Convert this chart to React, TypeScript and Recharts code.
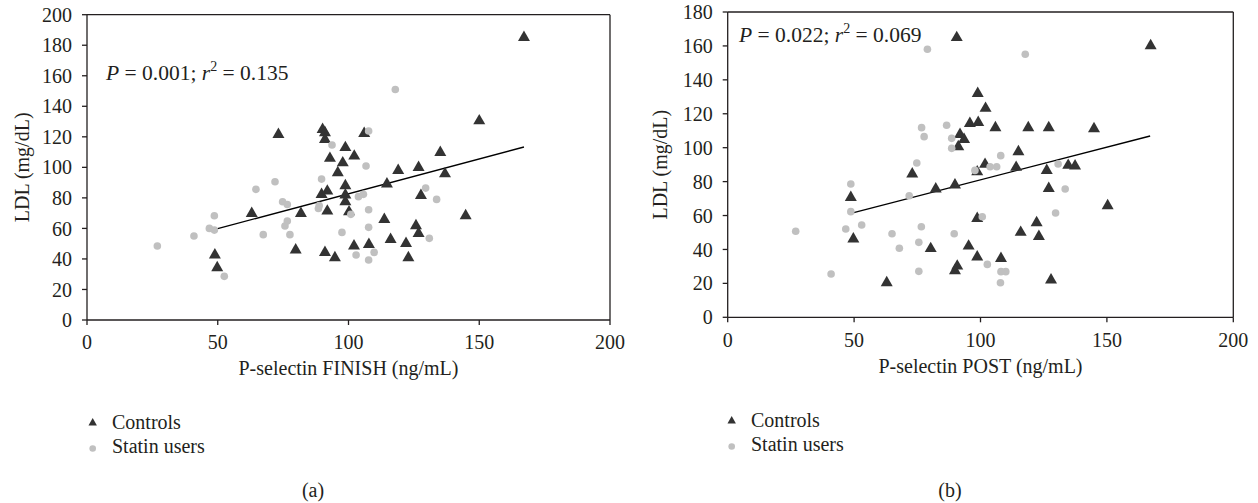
import { ScatterChart, Scatter, XAxis, YAxis, ReferenceLine, Legend } from 'recharts';

// (a) P-selectin FINISH vs LDL
const finishControls = [
  { x: 48.9, y: 43.7 }, { x: 49.8, y: 35.4 }, { x: 63, y: 70.9 }, { x: 73.2, y: 122.7 },
  { x: 79.8, y: 47 }, { x: 81.8, y: 70.9 }, { x: 89.7, y: 83.4 }, { x: 90.1, y: 125.9 },
  { x: 91, y: 123.8 }, { x: 91, y: 119.4 }, { x: 91, y: 45.4 }, { x: 91.9, y: 85.6 },
  { x: 91.9, y: 72.5 }, { x: 92.9, y: 107 }, { x: 94.8, y: 41.9 }, { x: 95.9, y: 97.6 },
  { x: 97.8, y: 104.1 }, { x: 98.8, y: 114.1 }, { x: 98.8, y: 89.1 }, { x: 98.8, y: 83 },
  { x: 98.8, y: 78.6 }, { x: 100.2, y: 72 }, { x: 102.1, y: 49.6 }, { x: 102.2, y: 108.5 },
  { x: 106, y: 123.3 }, { x: 107.8, y: 50.6 }, { x: 113.7, y: 67 }, { x: 114.7, y: 90.2 },
  { x: 116.1, y: 53.9 }, { x: 119, y: 99.1 }, { x: 122, y: 51.3 }, { x: 122.9, y: 41.9 },
  { x: 125.8, y: 62.9 }, { x: 126.8, y: 57.8 }, { x: 126.8, y: 101 }, { x: 127.7, y: 82.7 },
  { x: 135.1, y: 110.9 }, { x: 136.9, y: 96.9 }, { x: 144.8, y: 69.4 }, { x: 150, y: 131.6 },
  { x: 167.1, y: 186.2 },
];
const finishStatin = [
  { x: 26.9, y: 48.5 }, { x: 40.9, y: 55 }, { x: 46.8, y: 60 }, { x: 48.7, y: 58.9 },
  { x: 48.7, y: 68.3 }, { x: 52.5, y: 28.6 }, { x: 64.6, y: 85.6 }, { x: 67.4, y: 55.9 },
  { x: 71.9, y: 90.6 }, { x: 74.8, y: 77.5 }, { x: 75.7, y: 61.6 }, { x: 76.6, y: 75.7 },
  { x: 76.6, y: 64.8 }, { x: 77.6, y: 55.9 }, { x: 88.5, y: 73 }, { x: 88.8, y: 75 },
  { x: 89.7, y: 92.3 }, { x: 93.7, y: 114.6 }, { x: 97.5, y: 57.4 }, { x: 100.9, y: 69.2 },
  { x: 102.9, y: 42.6 }, { x: 103.8, y: 80.8 }, { x: 105.7, y: 82.3 }, { x: 106.7, y: 100.9 },
  { x: 107.7, y: 123.8 }, { x: 107.7, y: 72.2 }, { x: 107.7, y: 60.7 }, { x: 107.7, y: 39.3 },
  { x: 109.8, y: 44.3 }, { x: 117.9, y: 151 }, { x: 129.5, y: 86.4 }, { x: 130.9, y: 53.5 },
  { x: 133.7, y: 79 },
];
const finishFit = [{ x: 48.9, y: 59.4 }, { x: 167.1, y: 113.3 }];
const finishYTicks = [0, 20, 40, 60, 80, 100, 120, 140, 160, 180, 200];

// (b) P-selectin POST vs LDL
const postControls = [
  { x: 48.7, y: 71.7 }, { x: 49.7, y: 47.2 }, { x: 62.9, y: 21.4 }, { x: 73, y: 85.5 },
  { x: 80.3, y: 41.5 }, { x: 82.3, y: 76.7 }, { x: 89.9, y: 79 }, { x: 89.9, y: 28.5 },
  { x: 90.6, y: 165.9 }, { x: 90.8, y: 31.2 }, { x: 91.2, y: 101.6 }, { x: 91.9, y: 108.8 },
  { x: 93.5, y: 105.9 }, { x: 95.3, y: 43 }, { x: 95.8, y: 115.3 }, { x: 98.7, y: 86.8 },
  { x: 98.7, y: 59.3 }, { x: 98.7, y: 36.6 }, { x: 98.9, y: 133 }, { x: 99.1, y: 115.9 },
  { x: 101.8, y: 91.2 }, { x: 102, y: 124.2 }, { x: 105.9, y: 112.8 }, { x: 108.1, y: 35.7 },
  { x: 114.1, y: 89.4 }, { x: 115, y: 98.6 }, { x: 115.9, y: 51.1 }, { x: 118.9, y: 112.8 },
  { x: 122.2, y: 56.8 }, { x: 123.1, y: 48.7 }, { x: 126.2, y: 87.6 }, { x: 127, y: 112.8 },
  { x: 127, y: 77 }, { x: 127.9, y: 23 }, { x: 134.7, y: 90.6 }, { x: 137.4, y: 90.2 },
  { x: 144.9, y: 112.2 }, { x: 150.3, y: 66.8 }, { x: 167.3, y: 161.1 },
];
const postStatin = [
  { x: 26.9, y: 50.7 }, { x: 40.9, y: 25.5 }, { x: 46.7, y: 52.1 }, { x: 48.7, y: 78.6 },
  { x: 48.7, y: 62.3 }, { x: 53, y: 54.4 }, { x: 65, y: 49.3 }, { x: 67.9, y: 40.7 },
  { x: 71.8, y: 71.7 }, { x: 74.8, y: 91 }, { x: 75.6, y: 44.2 }, { x: 75.6, y: 27.1 },
  { x: 76.6, y: 53.4 }, { x: 76.7, y: 111.8 }, { x: 77.7, y: 106.5 }, { x: 79, y: 158 },
  { x: 86.6, y: 113.2 }, { x: 88.6, y: 105.5 }, { x: 88.6, y: 99.6 }, { x: 89.6, y: 49.3 },
  { x: 97.8, y: 86.6 }, { x: 100.7, y: 59.3 }, { x: 102.7, y: 31.2 }, { x: 103.8, y: 88.8 },
  { x: 106.4, y: 88.8 }, { x: 107.9, y: 20.4 }, { x: 108, y: 95.3 }, { x: 108.1, y: 26.9 },
  { x: 110, y: 26.9 }, { x: 117.7, y: 155.1 }, { x: 129.7, y: 61.5 }, { x: 130.7, y: 90.4 },
  { x: 133.5, y: 75.6 },
];
const postFit = [{ x: 48.7, y: 61.3 }, { x: 167.1, y: 106.9 }];
const postYTicks = [0, 20, 40, 60, 80, 100, 120, 140, 160, 180];

const xTicks = [0, 50, 100, 150, 200];
const seriesNames = ['Controls', 'Statin users'];

const FONT = '"Liberation Serif", "Times New Roman", serif';
const INK = '#231f20';
const CONTROL = '#333333';
const STATIN = '#c0c0c0';
const FS = 20;

const Tri = (p: any) => {
  const { cx, cy } = p;
  if (cx == null || cy == null) return null;
  const w = 12, h = 10.4;
  return (
    <polygon
      points={`${cx},${cy - h / 2} ${cx - w / 2},${cy + h / 2} ${cx + w / 2},${cy + h / 2}`}
      fill={CONTROL}
    />
  );
};

const Dot = (p: any) => {
  const { cx, cy } = p;
  if (cx == null || cy == null) return null;
  return <circle cx={cx} cy={cy} r={3.8} fill={STATIN} />;
};

const LegendBox = () => (
  <svg width={220} height={60} style={{ display: 'block' }}>
    <polygon points="12.7,13 8.5,20.5 16.9,20.5" fill={CONTROL} />
    <text x={32} y={24} fontFamily={FONT} fontSize={FS} fill={INK}>{seriesNames[0]}</text>
    <circle cx={12.7} cy={43.5} r={3.3} fill={STATIN} />
    <text x={32} y={48} fontFamily={FONT} fontSize={FS} fill={INK}>{seriesNames[1]}</text>
  </svg>
);

type PanelProps = {
  controls: { x: number; y: number }[];
  statin: { x: number; y: number }[];
  fit: { x: number; y: number }[];
  yTicks: number[];
  xLabel: string;
  p: string;
  r2: string;
  tag: string;
  top: number;
  right: number;
  yAxisWidth: number;
  yLabelOffset: number;
  noteX: number;
  noteY: number;
  legendLeft: number;
  legendTop: number;
  tagX: number;
};

const Panel = (props: PanelProps) => {
  const { controls, statin, fit, yTicks, xLabel, p, r2, tag, top, right, yAxisWidth } = props;
  const yMax = yTicks[yTicks.length - 1];
  const xAxisHeight = 60;
  const plotBottom = top + 305.3;
  const bottom = 503 - plotBottom - xAxisHeight;
  return (
    <ScatterChart
      width={629}
      height={503}
      margin={{ top, right, bottom, left: 0 }}
      style={{ fontFamily: FONT }}
    >
      <XAxis
        type="number"
        dataKey="x"
        domain={[0, 200]}
        ticks={xTicks}
        interval={0}
        height={xAxisHeight}
        stroke={INK}
        strokeWidth={1.3}
        tickSize={5}
        tickMargin={10}
        tick={{ fill: INK, fontSize: FS, fontFamily: FONT }}
        label={{ value: xLabel, position: 'insideTop', offset: 41, fill: INK, fontSize: FS, fontFamily: FONT }}
      />
      <YAxis
        type="number"
        dataKey="y"
        domain={[0, yMax]}
        ticks={yTicks}
        interval={0}
        width={yAxisWidth}
        stroke={INK}
        strokeWidth={1.3}
        tickSize={5}
        tickMargin={10}
        tick={{ fill: INK, fontSize: FS, fontFamily: FONT }}
        label={{
          value: 'LDL (mg/dL)',
          angle: -90,
          position: 'insideLeft',
          offset: props.yLabelOffset,
          fill: INK,
          fontSize: FS,
          fontFamily: FONT,
          style: { textAnchor: 'middle' },
        }}
      />
      <ReferenceLine y={yMax} stroke={INK} strokeWidth={1.3} />
      <ReferenceLine x={200} stroke={INK} strokeWidth={1.3} />
      <ReferenceLine segment={fit} stroke="#000" strokeWidth={1.4} />
      <Scatter name={seriesNames[0]} data={controls} shape={Tri} isAnimationActive={false} />
      <Scatter name={seriesNames[1]} data={statin} shape={Dot} isAnimationActive={false} />
      <Legend
        layout="vertical"
        align="center"
        verticalAlign="middle"
        content={() => <LegendBox />}
        wrapperStyle={{ left: props.legendLeft, top: props.legendTop, width: 220, height: 60 }}
      />
      <text x={props.noteX} y={props.noteY} fontFamily={FONT} fontSize={21.5} fill={INK}>
        <tspan fontStyle="italic">P</tspan> = {p}; <tspan fontStyle="italic">r</tspan>
        <tspan dy={-9} fontSize={14}>2</tspan>
        <tspan dy={9}> = {r2}</tspan>
      </text>
      <text x={props.tagX} y={497} textAnchor="middle" fontFamily={FONT} fontSize={FS} fill={INK}>
        {tag}
      </text>
    </ScatterChart>
  );
};

export default function App() {
  return (
    <div
      style={{
        position: 'absolute',
        left: 0,
        top: 0,
        width: 1258,
        height: 503,
        display: 'flex',
        background: '#fff',
      }}
    >
      <Panel
        controls={finishControls}
        statin={finishStatin}
        fit={finishFit}
        yTicks={finishYTicks}
        xLabel="P-selectin FINISH (ng/mL)"
        p="0.001"
        r2="0.135"
        tag="(a)"
        top={14.7}
        right={19}
        yAxisWidth={87}
        yLabelOffset={22}
        noteX={106}
        noteY={80}
        legendLeft={80}
        legendTop={405}
        tagX={313}
      />
      <Panel
        controls={postControls}
        statin={postStatin}
        fit={postFit}
        yTicks={postYTicks}
        xLabel="P-selectin POST (ng/mL)"
        p="0.022"
        r2="0.069"
        tag="(b)"
        top={12}
        right={24.7}
        yAxisWidth={98.7}
        yLabelOffset={31}
        noteX={110}
        noteY={42}
        legendLeft={90}
        legendTop={403}
        tagX={321}
      />
    </div>
  );
}
